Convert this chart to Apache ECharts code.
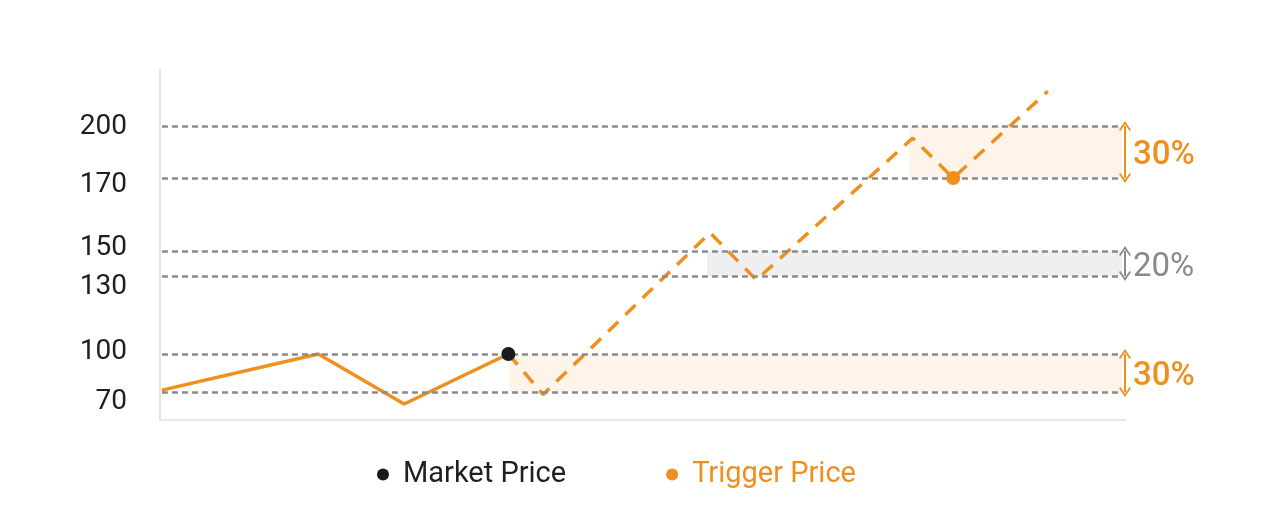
<!DOCTYPE html>
<html>
<head>
<meta charset="utf-8">
<script src="https://cdn.jsdelivr.net/npm/echarts@6/dist/echarts.min.js"></script>
<style>html,body{margin:0;padding:0;background:#fff}#c{width:1272px;height:525px}</style>
</head>
<body>
<div id="c"></div>
<script>
// ---- data ----
var levelPrices = [70, 100, 130, 150, 170, 200];          // tick labels / reference levels
var historyTimes = [0.2, 16.4, 25.3, 36.1];
var historyPrices = [71.5, 100, 60.5, 100];
var forecastTimes = [36.1, 39.7, 57.0, 61.8, 78.0, 82.2, 92.0];
var forecastPrices = [100, 68, 155, 128.5, 193, 170, 220];
var marketPoint = [36.1, 100];
var triggerPoint = [82.2, 170];
var bands = [
  {from: 36.2, low: 70, high: 100, label: '30%', kind: 'orange'},
  {from: 56.7, low: 130, high: 150, label: '20%', kind: 'grey'},
  {from: 77.6, low: 170, high: 200, label: '30%', kind: 'orange'}
];
var legendNames = ['Market Price', 'Trigger Price'];

// ---- schematic (non-linear) price scale layout ----
var levelPos = [28, 66, 144, 169, 242, 294];
var labelPos = [18, 68, 133, 172, 235, 293];
function toY(p) {
  var L = levelPrices, D = levelPos, i = 0;
  if (p <= L[0]) i = 0;
  else if (p >= L[L.length - 1]) i = L.length - 2;
  else { while (!(p >= L[i] && p <= L[i + 1])) i++; }
  return D[i] + (p - L[i]) * (D[i + 1] - D[i]) / (L[i + 1] - L[i]);
}
function pts(ts, ps) { return ts.map(function (t, i) { return [t, toY(ps[i])]; }); }

var ORANGE = '#EF8F1E', GREY = '#8a8a8a', FONT = 'Roboto';
var xEnd = 99.7, xArrow = 100;

var levelLines = levelPrices.map(function (p) {
  return [{coord: [0.2, toY(p)]}, {coord: [xEnd, toY(p)]}];
});
var areaData = bands.map(function (b) {
  return [{coord: [b.from, toY(b.high)], itemStyle: {color: b.kind === 'orange' ? '#FEF4EA' : '#EFEFF1'}},
          {coord: [xEnd, toY(b.low)]}];
});
var chevron = 'path://M0,9 L6,0 L12,9 L10.6,10 L6,3.2 L1.4,10 Z';
var arrowLines = bands.map(function (b) {
  var c = b.kind === 'orange' ? ORANGE : GREY;
  return [{coord: [xArrow, toY(b.high)], lineStyle: {color: c}, itemStyle: {color: c}},
          {coord: [xArrow, toY(b.low)]}];
});
var noteData = bands.map(function (b) {
  return {value: [xArrow, (toY(b.high) + toY(b.low)) / 2], name: b.label,
    label: {color: b.kind === 'orange' ? ORANGE : GREY, fontWeight: b.kind === 'orange' ? 500 : 400}};
});

var chart = echarts.init(document.getElementById('c'));
chart.setOption({
  animation: false,
  grid: {left: 160, right: 147, top: 70, bottom: 105},
  xAxis: {type: 'value', min: 0, max: 100, axisLine: {show: true, lineStyle: {color: '#e8e8e8', width: 2}},
    axisTick: {show: false}, axisLabel: {show: false}, splitLine: {show: false}},
  yAxis: {type: 'value', min: 0, max: 350,
    axisLine: {show: true, lineStyle: {color: '#e8e8e8', width: 2}},
    axisTick: {show: false}, splitLine: {show: false},
    axisLabel: {customValues: labelPos, margin: 33, fontFamily: FONT, fontSize: 28, color: '#1f1f1f',
      formatter: function (v) { var i = labelPos.indexOf(v); return i >= 0 ? String(levelPrices[i]) : ''; }}},
  legend: {left: 372, top: 455, itemGap: 100, itemWidth: 12, itemHeight: 12, icon: 'circle',
    textStyle: {fontFamily: FONT, fontSize: 29, padding: [0, 0, 0, 9]},
    data: [{name: legendNames[0], textStyle: {color: '#1f1f1f'}},
           {name: legendNames[1], textStyle: {color: ORANGE}}]},
  series: [
    {type: 'line', name: 'levels', data: [], silent: true,
      markArea: {silent: true, data: areaData},
      markLine: {silent: true, symbol: 'none', label: {show: false},
        lineStyle: {color: GREY, type: [6, 4], width: 2.5}, data: levelLines}},
    {type: 'line', name: 'arrows', data: [], silent: true, clip: false,
      markLine: {silent: true, symbol: [chevron, chevron], symbolSize: [12, 10], label: {show: false},
        lineStyle: {type: 'solid', width: 2}, data: arrowLines}},
    {type: 'line', name: 'history', data: pts(historyTimes, historyPrices), showSymbol: false,
      lineStyle: {color: ORANGE, width: 3.5}, z: 3},
    {type: 'line', name: 'forecast', data: pts(forecastTimes, forecastPrices), showSymbol: false,
      lineStyle: {color: ORANGE, width: 3.5, type: [14, 10]}, z: 3},
    {type: 'scatter', name: legendNames[0], data: [pts([marketPoint[0]], [marketPoint[1]])[0]],
      symbolSize: 14, itemStyle: {color: '#1a1a1a', opacity: 1}, z: 5},
    {type: 'scatter', name: legendNames[1], data: [pts([triggerPoint[0]], [triggerPoint[1]])[0]],
      symbolSize: 14, itemStyle: {color: ORANGE, opacity: 1}, z: 5},
    {type: 'scatter', name: 'notes', data: noteData, symbolSize: 2, silent: true, clip: false,
      itemStyle: {color: 'rgba(0,0,0,0)', opacity: 1},
      label: {show: true, position: 'right', distance: 7, offset: [0, 4], fontFamily: FONT, fontSize: 33,
        opacity: 1, formatter: function (p) { return p.name; }}}
  ]
});
</script>
</body>
</html>
